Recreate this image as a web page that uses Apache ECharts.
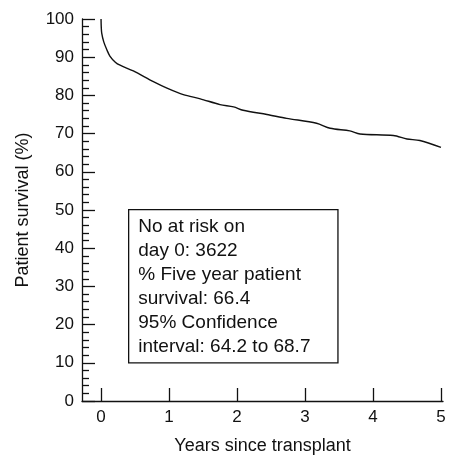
<!DOCTYPE html>
<html>
<head>
<meta charset="utf-8">
<script src="https://cdn.jsdelivr.net/npm/echarts@6/dist/echarts.min.js"></script>
<style>
  html, body { margin: 0; padding: 0; background: #fff; }
  #chart { width: 455px; height: 460px; }
</style>
</head>
<body>
<div id="chart"></div>
<script>
// years since transplant
var years = [0, 0.003, 0.01, 0.04, 0.084, 0.13, 0.21, 0.28, 0.475, 0.77, 0.97, 1.21, 1.46, 1.75, 1.95, 2.09, 2.44, 2.73, 3.17, 3.37, 3.66, 3.81, 4.30, 4.50, 4.69, 5.0];
// patient survival (%)
var survival = [100, 98.0, 96.3, 94.0, 92.0, 90.3, 88.7, 87.9, 86.4, 83.6, 81.9, 80.2, 79.1, 77.6, 77.0, 76.1, 75.0, 74.0, 72.7, 71.4, 70.7, 69.9, 69.5, 68.6, 68.2, 66.4];
// tick labels
var xTicks = [0, 1, 2, 3, 4, 5];
var noteLines = [
  'No at risk on',
  'day 0: 3622',
  '% Five year patient',
  'survival: 66.4',
  '95% Confidence',
  'interval: 64.2 to 68.7'
];

var font = '"Liberation Sans", Arial, sans-serif';
var chart = echarts.init(document.getElementById('chart'));

var pts = [];
for (var i = 0; i < years.length; i++) {
  pts.push([years[i], survival[i]]);
}

chart.setOption({
  animation: false,
  grid: { left: 82, right: 12, top: 19, bottom: 54 },
  xAxis: {
    type: 'value',
    min: -0.28,
    max: 5.03,
    name: 'Years since transplant',
    nameLocation: 'middle',
    nameGap: 36,
    nameTextStyle: { fontFamily: font, fontSize: 18, color: '#111' },
    axisLine: { show: true, onZero: false, lineStyle: { color: '#111', width: 1.3 } },
    axisTick: { show: true, inside: true, length: 13, customValues: xTicks, lineStyle: { color: '#111', width: 1.3 } },
    axisLabel: { customValues: xTicks, fontFamily: font, fontSize: 17, color: '#111', margin: 8 },
    splitLine: { show: false }
  },
  yAxis: {
    type: 'value',
    min: 0,
    max: 100,
    interval: 10,
    name: 'Patient survival (%)',
    nameLocation: 'middle',
    nameGap: 50,
    nameTextStyle: { fontFamily: font, fontSize: 18, color: '#111' },
    axisLine: { show: true, onZero: false, lineStyle: { color: '#111', width: 1.3 } },
    axisTick: { show: true, inside: true, length: 13, lineStyle: { color: '#111', width: 1.3 } },
    minorTick: { show: true, splitNumber: 5, length: 7, lineStyle: { color: '#111', width: 1.3 } },
    axisLabel: { fontFamily: font, fontSize: 17, color: '#111', margin: 8 },
    splitLine: { show: false }
  },
  series: [{
    type: 'line',
    data: pts,
    showSymbol: false,
    smooth: 0.3,
    lineStyle: { color: '#111', width: 1.4 }
  }],
  graphic: [{
    type: 'text',
    left: 128,
    top: 209,
    style: {
      text: noteLines.join('\n'),
      font: '19px ' + font,
      fill: '#111',
      lineHeight: 24,
      width: 190,
      borderColor: '#111',
      borderWidth: 1.3,
      padding: [4, 9, 4, 9],
      backgroundColor: '#fff'
    }
  }]
});
</script>
</body>
</html>
